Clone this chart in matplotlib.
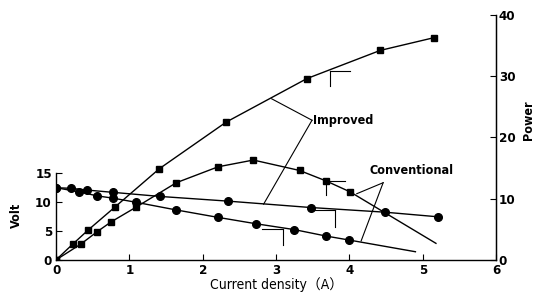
import matplotlib.pyplot as plt

plt.rcParams.update({
    "font.family": ["DejaVu Sans"],
    "font.stretch": "condensed",
    "font.weight": "bold",
    "font.size": 9,
})

# Power curves (squares, right axis)
imp_pow_x = [0.0, 0.23, 0.44, 0.80, 1.41, 2.32, 3.42, 4.42, 5.16]
imp_pow_y = [0.0, 2.6, 4.9, 8.6, 14.9, 22.5, 29.6, 34.2, 36.3]
con_pow_x = [0.0, 0.34, 0.56, 0.75, 1.09, 1.64, 2.21, 2.69, 3.32, 3.68, 4.01, 5.18]
con_pow_y = [0.0, 2.6, 4.6, 6.2, 8.6, 12.6, 15.2, 16.3, 14.6, 12.9, 11.1, 2.7]

# Voltage curves (circles, left axis)
imp_volt_x = [0.0, 0.20, 0.42, 0.78, 1.42, 2.34, 3.47, 4.48, 5.21]
imp_volt_y = [12.4, 12.3, 12.0, 11.6, 10.9, 10.1, 9.0, 8.2, 7.4]
con_volt_x = [0.0, 0.31, 0.56, 0.78, 1.09, 1.63, 2.21, 2.73, 3.25, 3.68, 4.0, 4.9]
con_volt_y = [12.4, 11.7, 11.0, 10.6, 9.9, 8.6, 7.3, 6.2, 5.2, 4.1, 3.4, 1.4]

x_ticks = [0, 1, 2, 3, 4, 5, 6]
volt_ticks = [0, 5, 10, 15]
pow_ticks = [0, 10, 20, 30, 40]

fig = plt.figure(figsize=(5.34, 2.92), dpi=100)
ax = fig.add_axes([0.105, 0.110, 0.824, 0.839])
ax2 = ax.twinx()

line_kw = dict(color="black", linewidth=1.0)

ax2.plot(imp_pow_x, imp_pow_y, marker="s", markersize=4.8, **line_kw)
ax2.plot(con_pow_x, con_pow_y, marker="s", markersize=4.8,
         markevery=list(range(len(con_pow_x) - 1)), **line_kw)
ax.plot(imp_volt_x, imp_volt_y, marker="o", markersize=5.5, **line_kw)
ax.plot(con_volt_x, con_volt_y, marker="o", markersize=5.5,
        markevery=list(range(len(con_volt_x) - 1)), **line_kw)

# small corner marks drawn across each curve
thin = dict(color="black", linewidth=0.8)
ax2.plot([3.74, 4.01], [30.9, 30.9], **thin)
ax2.plot([3.74, 3.74], [30.9, 28.4], **thin)
ax2.plot([3.68, 3.94], [12.95, 12.95], **thin)
ax2.plot([3.68, 3.68], [12.95, 10.6], **thin)
ax.plot([3.51, 3.81], [8.6, 8.6], **thin)
ax.plot([3.81, 3.81], [8.6, 5.7], **thin)
ax.plot([2.81, 3.10], [5.27, 5.27], **thin)
ax.plot([3.10, 3.10], [5.27, 2.6], **thin)

# leader lines (power axis coordinates)
lead = dict(color="black", linewidth=0.8)
ax2.plot([2.94, 3.49], [26.3, 22.8], **lead)
ax2.plot([3.49, 2.83], [22.8, 9.1], **lead)
ax2.plot([4.46, 4.10], [12.6, 10.8], **lead)
ax2.plot([4.46, 4.16], [12.6, 3.1], **lead)

ax2.text(3.51, 22.8, "Improved", fontsize=9, fontweight="bold",
         ha="left", va="center")
ax2.text(4.28, 14.6, "Conventional", fontsize=9, fontweight="bold",
         ha="left", va="center")

ax.set_xlim(0, 6)
ax.set_ylim(0, 42.1)
ax2.set_ylim(0, 40)

ax.set_xticks(x_ticks)
ax.set_yticks(volt_ticks)
ax2.set_yticks(pow_ticks)

ax.spines["top"].set_visible(False)
ax2.spines["top"].set_visible(False)
ax.spines["left"].set_bounds(0, 15)
ax2.spines["left"].set_visible(False)
for sp in ["left", "bottom"]:
    ax.spines[sp].set_linewidth(1.0)
ax2.spines["right"].set_linewidth(1.0)
ax2.spines["bottom"].set_visible(False)

ax.tick_params(axis="x", direction="in", length=4, width=0.8, pad=3, labelsize=9.5)
ax.tick_params(axis="y", direction="in", length=4, width=0.8, pad=3, labelsize=9.5)
ax2.tick_params(axis="y", direction="in", length=4, width=0.8, pad=2, labelsize=9.5)

ax.set_ylabel("Volt", fontsize=9, fontweight="bold")
ax.yaxis.set_label_coords(-0.075, 0.18)
ax2.set_ylabel("Power", fontsize=9, fontweight="bold")
ax2.yaxis.set_label_coords(1.073, 0.57)
ax2.yaxis.label.set_verticalalignment("center")
ax.set_xlabel("Current density（A）", fontsize=10, fontweight="normal",
              family=["DejaVu Sans", "Noto Sans CJK JP"], labelpad=0)

fig.savefig("out.png", dpi=100)
